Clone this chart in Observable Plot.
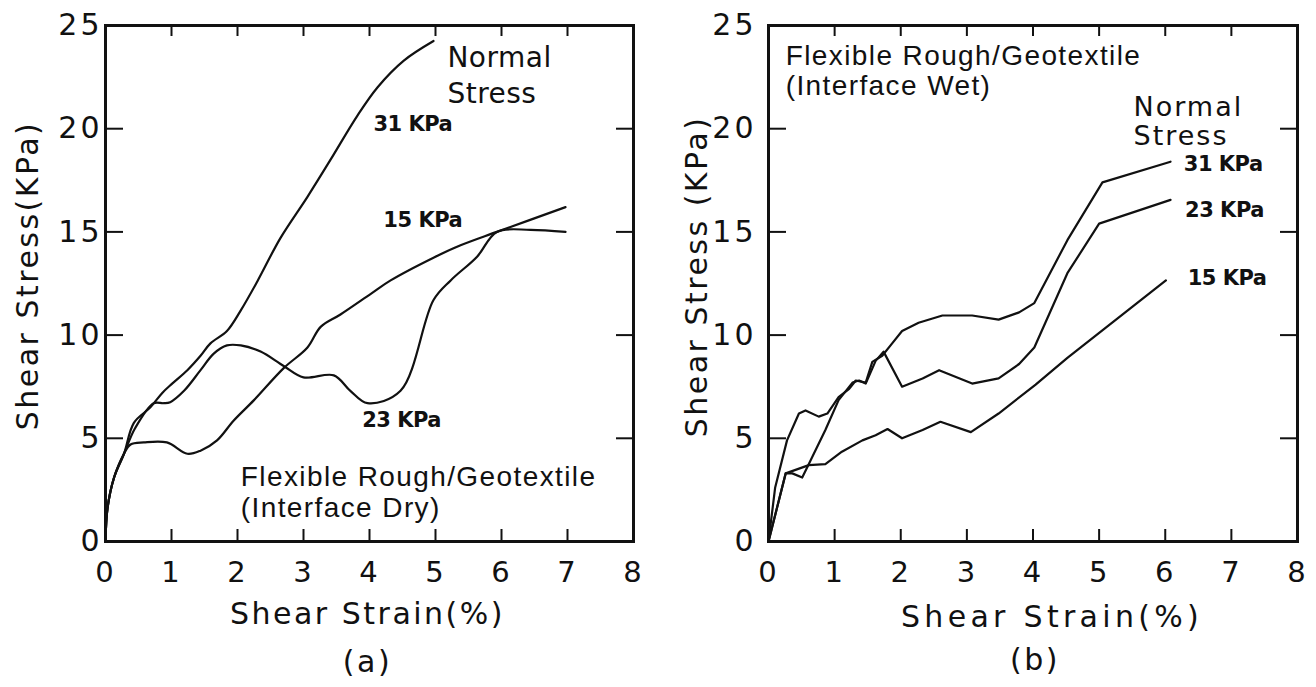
<!DOCTYPE html>
<html><head><meta charset="utf-8">
<script src="https://cdn.jsdelivr.net/npm/d3@7"></script>
<script src="https://cdn.jsdelivr.net/npm/@observablehq/plot@0.6"></script>
<style>
body{margin:0;background:#fff;}
#wrap{display:flex;width:1316px;height:687px;overflow:hidden;}
svg{display:block;}
g[aria-label="x-axis tick label"] text{letter-spacing:2px;}
g[aria-label="y-axis tick label"] text{letter-spacing:3px;}
</style></head><body><div id="wrap"></div>
<script>
// ---- axes ----
const xTicks = [0,1,2,3,4,5,6,7,8];
const yTicks = [0,5,10,15,20,25];
const innerXTicks = [1,2,3,4,5,6,7];
const innerYTicks = [5,10,15,20];

// ---- panel (a): interface dry  [strain %, stress kPa] ----
const dry31 = [[0,0],[0.03,1.6],[0.13,3.1],[0.28,4.25],[0.43,5.75],[0.68,6.5],[0.86,7.2],[1.01,7.65],[1.24,8.3],[1.44,9.0],[1.59,9.6],[1.84,10.2],[2.05,11.2],[2.3,12.6],[2.65,14.7],[3.06,16.7],[3.41,18.5],[3.81,20.6],[4.12,22.0],[4.52,23.3],[4.97,24.25]];
const dry23 = [[0,0],[0.03,1.6],[0.13,3.1],[0.28,4.25],[0.45,5.5],[0.73,6.7],[0.88,6.7],[0.98,6.75],[1.19,7.3],[1.44,8.3],[1.64,9.1],[1.84,9.5],[2.05,9.5],[2.35,9.2],[2.7,8.5],[3.0,7.95],[3.46,8.05],[3.71,7.3],[3.97,6.7],[4.47,7.3],[4.97,11.7],[5.23,12.65],[5.63,13.8],[5.93,15.0],[6.44,15.1],[6.97,15.0]];
const dry15 = [[0,0],[0.03,1.6],[0.13,3.1],[0.28,4.25],[0.38,4.7],[0.58,4.8],[0.93,4.8],[1.24,4.25],[1.44,4.4],[1.69,4.9],[1.94,5.85],[2.25,6.85],[2.7,8.4],[3.06,9.4],[3.26,10.4],[3.56,11.0],[4.02,12.0],[4.32,12.65],[4.97,13.75],[5.38,14.35],[5.93,15.0],[6.97,16.2]];

// ---- panel (b): interface wet ----
const wet31 = [[0,0],[0.1,2.6],[0.28,4.9],[0.46,6.2],[0.56,6.35],[0.76,6.05],[0.89,6.2],[1.06,7.0],[1.22,7.4],[1.32,7.8],[1.47,7.7],[1.57,8.7],[1.72,9.0],[1.87,9.6],[2.02,10.2],[2.27,10.6],[2.63,10.95],[3.08,10.95],[3.48,10.75],[3.79,11.1],[4.02,11.55],[4.52,14.6],[5.05,17.4],[6.08,18.4]];
const wet23 = [[0,0],[0.26,3.3],[0.36,3.3],[0.51,3.1],[0.61,3.75],[0.86,5.4],[1.06,6.85],[1.27,7.7],[1.37,7.8],[1.47,7.65],[1.62,8.75],[1.74,9.2],[2.02,7.5],[2.33,7.9],[2.58,8.3],[3.08,7.65],[3.48,7.9],[3.79,8.6],[4.02,9.4],[4.52,13.0],[5.0,15.4],[6.08,16.55]];
const wet15 = [[0,0],[0.26,3.3],[0.61,3.7],[0.86,3.75],[1.11,4.35],[1.42,4.9],[1.62,5.15],[1.8,5.45],[2.02,5.0],[2.33,5.4],[2.6,5.8],[3.06,5.3],[3.48,6.2],[4.04,7.6],[4.52,8.9],[6.01,12.65]];

// ---- text ----
const xTitle = "Shear Strain(%)";
const yTitleA = "Shear Stress(KPa)";
const yTitleB = "Shear Stress (KPa)";
const tagA = "(a)";
const tagB = "(b)";
const dryNotes = [{text:"Flexible Rough/Geotextile", x:2.05, y:3.1},{text:"(Interface Dry)", x:2.05, y:1.6}];
const wetNotes = [{text:"Flexible Rough/Geotextile", x:0.26, y:23.5},{text:"(Interface Wet)", x:0.26, y:22.05}];
const dryStress = [{text:"Normal", x:5.18, y:23.4},{text:"Stress", x:5.18, y:21.7}];
const wetStress = [{text:"Normal", x:5.52, y:21.05},{text:"Stress", x:5.52, y:19.65}];
const dryKpa = [{text:"31 KPa", x:4.06, y:20.2},{text:"15 KPa", x:4.21, y:15.55},{text:"23 KPa", x:3.89, y:5.86}];
const wetKpa = [{text:"31 KPa", x:6.28, y:18.27},{text:"23 KPa", x:6.3, y:16.04},{text:"15 KPa", x:6.34, y:12.74}];

const GEO = "DejaVu Sans";
const HEL = "Liberation Sans";

function panel(o) {
  const W = 658, H = 687, mt = 25, mb = 146;
  const iw = W - o.ml - o.mr, ih = H - mt - mb;
  const rows = o.series.flatMap(([name, pts]) => pts.map(([x, y]) => ({name, x, y})));
  const spacing = new Map();
  const reg = (arr, s) => arr.forEach(t => spacing.set(t, s));
  reg(o.notes.map(d => d.text), 1.4);
  reg(o.stress.map(d => d.text), o.stressSpacing);
  reg(o.kpa.map(d => d.text), -0.5);
  reg([o.yTitle, o.tag], 2.5);
  reg([xTitle], o.xTitleSpacing);
  const svg = Plot.plot({
    width: W, height: H,
    marginLeft: o.ml, marginRight: o.mr, marginTop: mt, marginBottom: mb,
    x: {domain: [0, 8]},
    y: {domain: [0, 25]},
    style: {background: "#fff", color: "#111", fontFamily: GEO},
    marks: [
      Plot.axisX({ticks: xTicks, tickSize: 0, tickPadding: 20, fontSize: 29, fontFamily: GEO, label: null}),
      Plot.axisY({ticks: yTicks, tickSize: 0, tickPadding: o.yPad, fontSize: 30, fontFamily: GEO, label: null}),
      Plot.tickX(innerXTicks, {x: d => d, insetTop: ih - 12, strokeWidth: 2, stroke: "#111"}),
      Plot.tickX(innerXTicks, {x: d => d, insetBottom: ih - 11, strokeWidth: 2, stroke: "#111"}),
      Plot.tickY(innerYTicks, {y: d => d, insetRight: iw - 18, strokeWidth: 2, stroke: "#111"}),
      Plot.tickY(innerYTicks, {y: d => d, insetLeft: iw - 17, strokeWidth: 2, stroke: "#111"}),
      Plot.line(rows, {x: "x", y: "y", z: "name", stroke: "#111", strokeWidth: 2.2, curve: o.curve}),
      Plot.frame({stroke: "#111", strokeWidth: 3}),
      Plot.text(o.notes, {x: "x", y: "y", text: "text", textAnchor: "start", lineAnchor: "middle", fontSize: 28, fontFamily: HEL, fill: "#111"}),
      Plot.text(o.stress, {x: "x", y: "y", text: "text", textAnchor: "start", lineAnchor: "middle", fontSize: o.stressSize, fontFamily: GEO, fill: "#111"}),
      Plot.text(o.kpa, {x: "x", y: "y", text: "text", textAnchor: "start", lineAnchor: "middle", fontSize: 21, fontWeight: "bold", fontFamily: GEO, fill: "#111"}),
      Plot.text([o.yTitle], {frameAnchor: "left", text: d => d, rotate: -90, dx: o.yTitleDx, dy: o.yTitleDy, textAnchor: "middle", lineAnchor: "middle", fontSize: 30, fontFamily: GEO, fill: "#111"}),
      Plot.text([xTitle], {frameAnchor: "bottom", text: d => d, dx: o.xTitleDx, dy: o.xTitleDy, textAnchor: "middle", lineAnchor: "middle", fontSize: 30, fontFamily: GEO, fill: "#111"}),
      Plot.text([o.tag], {frameAnchor: "bottom", text: d => d, dx: o.tagDx, dy: o.tagDy, textAnchor: "middle", lineAnchor: "middle", fontSize: 30, fontFamily: GEO, fill: "#111"})
    ]
  });
  d3.select(svg).selectAll("text").each(function() {
    const s = spacing.get(this.textContent);
    if (s !== undefined) this.style.letterSpacing = s + "px";
  });
  return svg;
}

const wrap = document.getElementById("wrap");
wrap.append(panel({
  series: [["31", dry31], ["23", dry23], ["15", dry15]],
  notes: dryNotes, stress: dryStress, kpa: dryKpa, stressSize: 28, stressSpacing: 0.5,
  ml: 105, mr: 25, yPad: 3, curve: "catmull-rom",
  yTitle: yTitleA, yTitleDx: -77, yTitleDy: -8,
  xTitleDx: -2, xTitleDy: 73, xTitleSpacing: 2.5, tag: tagA, tagDx: -2, tagDy: 121
}));
wrap.append(panel({
  series: [["31", wet31], ["23", wet23], ["15", wet15]],
  notes: wetNotes, stress: wetStress, kpa: wetKpa, stressSize: 27, stressSpacing: 2,
  ml: 110, mr: 19, yPad: 12, curve: "linear",
  yTitle: yTitleB, yTitleDx: -71, yTitleDy: -7,
  xTitleDx: 19, xTitleDy: 76, xTitleSpacing: 4.3, tag: tagB, tagDx: 2, tagDy: 119
}));
</script></body></html>
